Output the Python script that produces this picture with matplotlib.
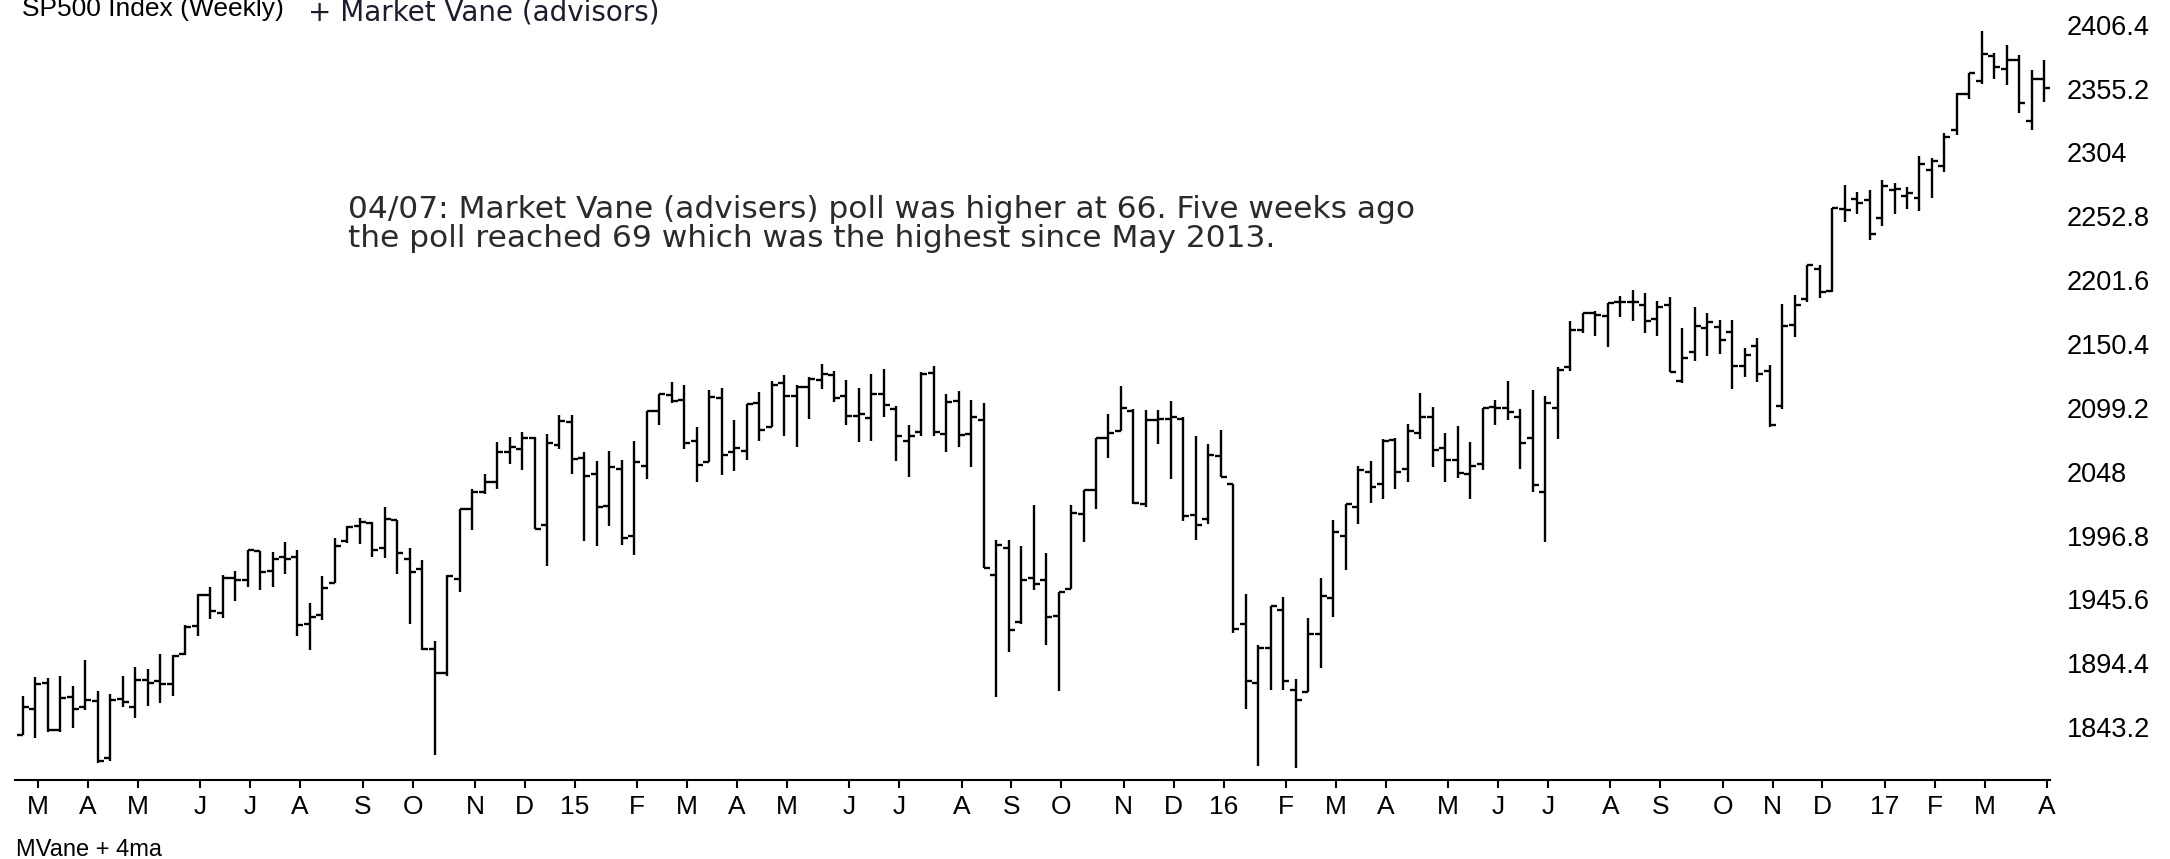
import numpy as np
import pandas as pd
import matplotlib
matplotlib.use('Agg')
from matplotlib import pyplot as plt

# SP500 weekly bars, first bar = week ending 2014-02-28
first_week = '2014-02-28'

opens = [1836.8, 1857.7, 1878.3, 1841.1, 1867.7, 1859.2, 1863.9, 1818.2, 1865.8, 1859.5,
         1880.8, 1880.0, 1878.0, 1902.0, 1923.9, 1948.9, 1934.8, 1962.9, 1960.8, 1984.2,
         1968.2, 1979.8, 1979.2, 1926.0, 1933.4, 1958.4, 1992.6, 2004.1, 2007.2, 1986.8,
         2009.1, 1978.0, 1970.0, 1905.7, 1886.8, 1962.0, 2018.2, 2032.1, 2039.7, 2064.0,
         2065.8, 2074.8, 2005.0, 2069.3, 2087.6, 2058.9, 2046.1, 2020.8, 2050.4, 1996.7,
         2052.2, 2096.5, 2109.8, 2105.2, 2072.3, 2055.4, 2107.0, 2064.1, 2064.9, 2102.8,
         2084.1, 2119.3, 2108.4, 2115.6, 2121.3, 2125.3, 2108.6, 2092.3, 2091.3, 2110.6,
         2098.6, 2073.0, 2080.0, 2126.8, 2078.2, 2104.5, 2078.6, 2089.7, 1965.2, 1986.7,
         1927.3, 1963.1, 1960.8, 1931.9, 1954.3, 2013.7, 2033.5, 2075.1, 2080.8, 2097.0,
         2022.1, 2089.4, 2090.1, 2090.0, 2013.4, 2010.3, 2060.6, 2038.2, 1926.1, 1878.9,
         1906.3, 1936.9, 1873.3, 1871.4, 1917.8, 1947.1, 1996.1, 2019.3, 2047.9, 2038.0,
         2073.2, 2050.2, 2078.8, 2091.6, 2067.2, 2057.6, 2046.5, 2054.0, 2100.1, 2099.3,
         2091.8, 2075.1, 2031.5, 2099.3, 2131.7, 2162.0, 2175.1, 2173.2, 2183.8, 2183.7,
         2181.3, 2170.2, 2181.6, 2120.9, 2144.0, 2163.1, 2164.3, 2160.4, 2132.9, 2148.5,
         2129.0, 2100.6, 2165.6, 2186.4, 2210.2, 2193.0, 2258.8, 2266.5, 2266.2, 2251.6,
         2273.6, 2269.1, 2267.8, 2290.0, 2293.1, 2321.7, 2350.9, 2360.9, 2380.9, 2371.0,
         2378.2, 2329.1, 2363.1]

highs = [1867.9, 1883.6, 1882.4, 1884.0, 1875.9, 1897.3, 1872.5, 1869.6, 1884.1, 1891.3,
         1890.0, 1902.2, 1901.3, 1925.0, 1950.0, 1955.6, 1964.8, 1968.2, 1985.6, 1984.2,
         1983.9, 1991.4, 1984.9, 1942.9, 1964.0, 1994.8, 2004.5, 2011.2, 2007.7, 2019.3,
         2009.1, 1986.7, 1977.4, 1912.1, 1965.3, 2018.2, 2034.3, 2046.2, 2071.5, 2075.8,
         2079.5, 2075.8, 2077.9, 2093.6, 2093.6, 2064.1, 2056.9, 2064.6, 2057.6, 2072.4,
         2097.0, 2110.6, 2119.6, 2117.5, 2083.5, 2113.9, 2114.9, 2089.8, 2102.6, 2111.9,
         2120.9, 2125.9, 2117.7, 2124.1, 2134.7, 2129.0, 2121.9, 2115.0, 2126.7, 2130.3,
         2100.7, 2085.7, 2128.3, 2132.8, 2110.6, 2112.7, 2105.4, 2102.7, 1993.5, 1993.5,
         1988.6, 2020.9, 1983.0, 1951.4, 2020.9, 2033.5, 2075.2, 2094.3, 2116.5, 2098.0,
         2097.1, 2097.1, 2104.3, 2092.0, 2076.7, 2070.0, 2081.6, 2038.2, 1950.3, 1908.9,
         1940.2, 1947.2, 1881.6, 1930.7, 1963.0, 2009.1, 2022.4, 2052.4, 2056.6, 2074.0,
         2075.1, 2086.0, 2111.1, 2099.9, 2079.0, 2084.9, 2071.9, 2099.1, 2105.3, 2120.6,
         2097.9, 2113.3, 2108.7, 2131.7, 2169.1, 2175.6, 2177.1, 2183.0, 2188.5, 2193.8,
         2191.3, 2185.0, 2187.9, 2163.3, 2180.0, 2175.3, 2169.6, 2170.0, 2147.0, 2154.8,
         2133.3, 2182.3, 2189.9, 2213.4, 2214.1, 2259.8, 2277.5, 2272.6, 2273.8, 2282.1,
         2279.3, 2276.1, 2301.0, 2299.4, 2319.2, 2351.3, 2367.8, 2401.0, 2384.0, 2390.0,
         2382.0, 2370.4, 2378.4]

lows = [1836.8, 1834.4, 1839.6, 1839.6, 1842.1, 1856.6, 1814.4, 1816.0, 1859.7, 1850.6,
        1859.8, 1862.4, 1868.0, 1901.0, 1916.0, 1929.6, 1930.9, 1944.7, 1955.6, 1952.9,
        1955.6, 1965.9, 1916.4, 1904.8, 1928.9, 1958.4, 1991.0, 1990.1, 1979.3, 1978.5,
        1965.9, 1926.0, 1905.4, 1820.7, 1884.0, 1951.4, 2001.0, 2030.2, 2034.5, 2054.3,
        2049.6, 2002.3, 1972.6, 2066.2, 2046.0, 1992.4, 1988.1, 2004.5, 1989.2, 1980.9,
        2041.9, 2085.4, 2103.0, 2066.4, 2039.7, 2055.4, 2045.5, 2048.4, 2057.0, 2072.4,
        2084.1, 2077.0, 2067.9, 2090.0, 2114.0, 2104.0, 2085.7, 2072.1, 2072.5, 2092.0,
        2056.3, 2044.0, 2077.0, 2077.0, 2063.5, 2067.9, 2052.1, 1970.9, 1867.0, 1903.1,
        1926.0, 1953.0, 1908.8, 1871.9, 1954.3, 1991.5, 2018.0, 2059.0, 2080.5, 2022.0,
        2019.4, 2070.3, 2042.4, 2008.8, 1993.3, 2005.9, 2043.6, 1918.5, 1857.8, 1812.3,
        1872.7, 1872.7, 1810.1, 1871.4, 1891.0, 1931.8, 1969.3, 2006.0, 2022.5, 2026.0,
        2033.8, 2039.7, 2074.0, 2052.0, 2039.5, 2043.1, 2025.9, 2049.0, 2085.1, 2089.6,
        2050.4, 2032.1, 1991.7, 2074.0, 2128.8, 2159.0, 2157.1, 2147.6, 2172.0, 2168.5,
        2159.1, 2157.1, 2127.8, 2119.1, 2136.9, 2140.8, 2142.6, 2114.7, 2124.1, 2119.6,
        2083.8, 2098.0, 2156.1, 2184.0, 2187.4, 2192.0, 2248.4, 2254.8, 2233.6, 2245.1,
        2254.3, 2258.8, 2257.0, 2267.2, 2288.0, 2318.0, 2347.0, 2358.9, 2363.0, 2358.0,
        2335.7, 2322.3, 2344.7]

closes = [1859.5, 1878.0, 1841.1, 1866.5, 1857.6, 1865.1, 1815.7, 1864.9, 1863.4, 1881.1,
          1878.5, 1877.9, 1900.5, 1923.6, 1949.4, 1936.2, 1962.9, 1961.0, 1985.4, 1967.6,
          1978.2, 1978.3, 1925.2, 1931.6, 1955.1, 1988.4, 2003.4, 2007.7, 1985.5, 2010.4,
          1982.9, 1967.9, 1906.1, 1886.8, 1964.6, 2018.1, 2031.9, 2039.8, 2063.5, 2067.6,
          2075.4, 2002.3, 2070.7, 2088.8, 2058.2, 2044.8, 2019.4, 2051.8, 1995.0, 2055.5,
          2097.0, 2110.3, 2104.5, 2071.3, 2053.4, 2108.1, 2061.0, 2067.0, 2102.1, 2081.2,
          2117.7, 2108.3, 2116.1, 2122.7, 2126.1, 2107.4, 2092.8, 2094.1, 2110.0, 2101.5,
          2076.8, 2076.6, 2126.6, 2079.7, 2103.8, 2077.6, 2091.5, 1970.9, 1988.9, 1921.2,
          1961.1, 1958.0, 1931.3, 1951.4, 2014.9, 2033.1, 2075.2, 2079.4, 2099.2, 2023.0,
          2089.2, 2090.1, 2091.7, 2012.4, 2005.6, 2061.0, 2043.9, 1922.0, 1880.3, 1906.9,
          1940.2, 1880.1, 1864.8, 1917.8, 1948.1, 2000.0, 2022.2, 2049.6, 2035.9, 2072.8,
          2047.6, 2080.7, 2091.6, 2065.3, 2057.1, 2046.6, 2052.3, 2099.1, 2099.1, 2096.1,
          2071.2, 2037.4, 2103.0, 2129.9, 2161.7, 2175.0, 2173.6, 2182.9, 2184.1, 2183.9,
          2169.0, 2180.0, 2127.8, 2139.2, 2164.7, 2168.3, 2153.7, 2133.0, 2141.2, 2126.4,
          2085.2, 2164.5, 2181.9, 2213.4, 2192.0, 2259.5, 2258.1, 2263.8, 2238.8, 2277.0,
          2274.6, 2271.3, 2294.7, 2297.4, 2316.1, 2351.2, 2367.3, 2383.1, 2372.6, 2378.3,
          2344.0, 2362.7, 2355.5]

ytick_values = [2406.4, 2355.2, 2304, 2252.8, 2201.6, 2150.4, 2099.2, 2048, 1996.8, 1945.6, 1894.4, 1843.2]
ytick_labels = ['2406.4', '2355.2', '2304', '2252.8', '2201.6', '2150.4', '2099.2', '2048',
                '1996.8', '1945.6', '1894.4', '1843.2']

title_left = 'SP500 Index (Weekly)'
title_right = '+ Market Vane (advisors)'
note = ('04/07: Market Vane (advisers) poll was higher at 66. Five weeks ago\n'
        'the poll reached 69 which was the highest since May 2013.')
lower_title = 'MVane + 4ma'

n = len(closes)
assert len(opens) == len(highs) == len(lows) == n
weeks = pd.date_range(first_week, periods=n, freq='W-FRI')
x = np.arange(n)

# month ticks at the first weekly bar of each month (skip the leading Feb bar)
new_month = np.r_[False, weeks.month[1:] != weeks.month[:-1]]
tick_pos = x[new_month]
tick_lab = [d.strftime('%y') if d.month == 1 else d.strftime('%b')[0] for d in weeks[new_month]]

W, H = 2170, 859
fig = plt.figure(figsize=(W / 100, H / 100), dpi=100)
fig.patch.set_facecolor('white')
ax = fig.add_axes([15 / W, (H - 780) / H, (2050 - 15) / W, 780 / H])

lw = 1.7
tick = 0.48
ax.vlines(x, lows, highs, color='black', lw=lw)
ax.hlines(opens, x - tick, x, color='black', lw=lw)
ax.hlines(closes, x, x + tick, color='black', lw=lw)

ax.set_xlim(-0.64, 162.46)
ax.set_ylim(1800.8, 2426.2)

for s in ['top', 'left', 'right']:
    ax.spines[s].set_visible(False)
ax.spines['bottom'].set_linewidth(1.5)

tick_font = ['Liberation Sans', 'DejaVu Sans']
ax.set_xticks(tick_pos + 0.22)
ax.set_xticklabels(tick_lab, fontsize=19, family=tick_font)
ax.tick_params(axis='x', direction='out', length=6, width=1.5, pad=5)

ax.yaxis.tick_right()
ax.set_yticks(ytick_values)
ax.set_yticklabels(ytick_labels, fontsize=19.5, family=tick_font)
ax.tick_params(axis='y', length=0, pad=12)

fig.text(22 / W, 1 - 16 / H, title_left, fontsize=19, family=tick_font, va='baseline', ha='left')
fig.text(308 / W, 1 - 20 / H, title_right, fontsize=20, family='DejaVu Sans', va='baseline',
         ha='left', color='#1c1c2c')
fig.text(348 / W, 1 - 224 / H, note, fontsize=22.5, family='DejaVu Sans', va='center', ha='left',
         color='#2a2a2a', linespacing=1.0)
fig.text(16 / W, 1 - 850 / H, lower_title, fontsize=17, family=tick_font, va='center', ha='left')

fig.savefig('out.png', dpi=100)
